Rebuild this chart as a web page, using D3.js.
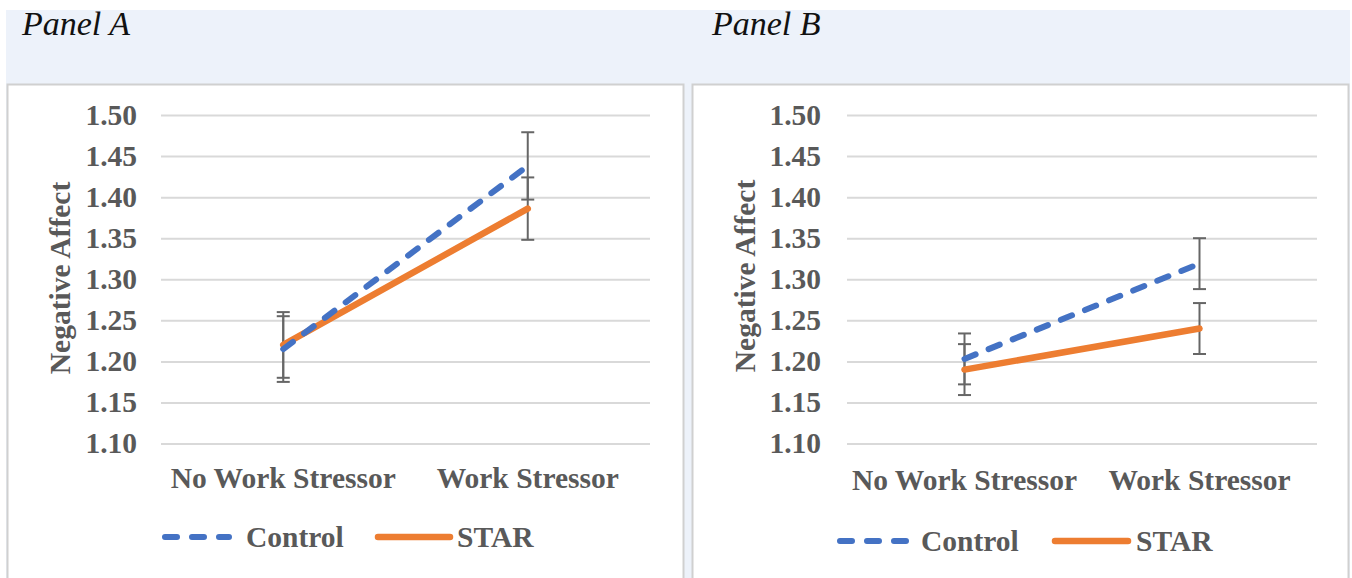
<!DOCTYPE html>
<html>
<head>
<meta charset="utf-8">
<script src="https://d3js.org/d3.v7.min.js"></script>
<style>
  html, body { margin: 0; padding: 0; background: #ffffff; }
  svg { display: block; }
</style>
</head>
<body>
<script>
// ---- data ----
const categories = ["No Work Stressor", "Work Stressor"];
const yTicks = [1.10, 1.15, 1.20, 1.25, 1.30, 1.35, 1.40, 1.45, 1.50];
const seriesNames = ["Control", "STAR"];

const panelA_control = [1.215, 1.438];
const panelA_controlErr = [0.040, 0.041];
const panelA_star = [1.220, 1.386];
const panelA_starErr = [0.040, 0.038];

const panelB_control = [1.203, 1.319];
const panelB_controlErr = [0.031, 0.031];
const panelB_star = [1.190, 1.240];
const panelB_starErr = [0.031, 0.031];

const panelTitles = ["Panel A", "Panel B"];
const yTitle = "Negative Affect";

// ---- styles ----
const W = 1352, H = 578;
const BLUE = "#4472C4", ORANGE = "#ED7D31", TEXT = "#595959", GRID = "#D9D9D9";
const FONT = "'Liberation Serif', 'Times New Roman', serif";
const FS = 29.5;

const svg = d3.select("body").append("svg").attr("width", W).attr("height", H);

svg.append("rect").attr("x", 0).attr("y", 0).attr("width", W).attr("height", H).attr("fill", "#ffffff");
svg.append("rect").attr("x", 6).attr("y", 10).attr("width", 1344).attr("height", H - 10).attr("fill", "#EDF2FA");

const panels = [
  {
    title: panelTitles[0], titleX: 22, titleY: 35,
    box: [7, 84, 676, 500],
    xRange: [161, 650], yRange: [443.5, 115], pad: 24,
    yTitleX: 70, yTitleY: 278, xLabelY: 488,
    legendY: 537, legendTextY: 547,
    leg: { dashX: [165, 229], ctrlText: 246, lineX: [378, 450], starText: 457 },
    control: panelA_control, controlErr: panelA_controlErr,
    star: panelA_star, starErr: panelA_starErr
  },
  {
    title: panelTitles[1], titleX: 712, titleY: 35,
    box: [692, 84, 656, 500],
    xRange: [847, 1317], yRange: [443.5, 115], pad: 26,
    yTitleX: 755, yTitleY: 276, xLabelY: 490,
    legendY: 541, legendTextY: 551,
    leg: { dashX: [840, 906], ctrlText: 921, lineX: [1055, 1128], starText: 1136 },
    control: panelB_control, controlErr: panelB_controlErr,
    star: panelB_star, starErr: panelB_starErr
  }
];

panels.forEach(p => {
  // title
  svg.append("text")
    .attr("x", p.titleX).attr("y", p.titleY)
    .attr("font-family", FONT).attr("font-style", "italic")
    .attr("font-size", 34).attr("fill", "#111111")
    .text(p.title);

  // panel box
  svg.append("rect")
    .attr("x", p.box[0] + 0.5).attr("y", p.box[1] + 0.5)
    .attr("width", p.box[2]).attr("height", p.box[3])
    .attr("fill", "#ffffff").attr("stroke", "#D0D0D0").attr("stroke-width", 2);

  const x = d3.scaleBand().domain(categories).range(p.xRange).padding(0);
  const y = d3.scaleLinear().domain([1.10, 1.50]).range(p.yRange);
  const cx = c => x(c) + x.bandwidth() / 2;
  const plotW = p.xRange[1] - p.xRange[0];

  // y axis with gridlines
  const yAxis = d3.axisLeft(y).tickValues(yTicks).tickFormat(d3.format(".2f"))
    .tickSizeInner(-plotW).tickSizeOuter(0).tickPadding(p.pad);
  const gy = svg.append("g").attr("transform", `translate(${p.xRange[0]},0)`).call(yAxis);
  gy.select(".domain").remove();
  gy.selectAll(".tick line").attr("stroke", GRID).attr("stroke-width", 2);
  gy.selectAll(".tick text")
    .attr("font-family", FONT).attr("font-weight", "bold")
    .attr("font-size", FS).attr("fill", TEXT);

  // x axis labels
  const xAxis = d3.axisBottom(x).tickSize(0).tickPadding(0);
  const gx = svg.append("g").attr("transform", `translate(0,${p.xLabelY})`).call(xAxis);
  gx.select(".domain").remove();
  gx.selectAll(".tick text")
    .attr("dy", 0).attr("y", 0)
    .attr("font-family", FONT).attr("font-weight", "bold")
    .attr("font-size", FS).attr("fill", TEXT);

  // y title
  svg.append("text")
    .attr("transform", `translate(${p.yTitleX},${p.yTitleY}) rotate(-90)`)
    .attr("text-anchor", "middle")
    .attr("font-family", FONT).attr("font-weight", "bold")
    .attr("font-size", FS).attr("fill", TEXT)
    .text(yTitle);

  const series = [
    { name: seriesNames[0], vals: p.control, errs: p.controlErr, color: BLUE, dash: "12,14" },
    { name: seriesNames[1], vals: p.star, errs: p.starErr, color: ORANGE, dash: null }
  ];

  // error bars (under lines)
  series.forEach(s => {
    const g = svg.append("g").attr("stroke", "#666666").attr("stroke-width", 2).attr("fill", "none");
    categories.forEach((c, i) => {
      const xc = cx(c);
      const hi = y(s.vals[i] + s.errs[i]), lo = y(s.vals[i] - s.errs[i]);
      g.append("line").attr("x1", xc).attr("x2", xc).attr("y1", hi).attr("y2", lo);
      g.append("line").attr("x1", xc - 6.5).attr("x2", xc + 6.5).attr("y1", hi).attr("y2", hi);
      g.append("line").attr("x1", xc - 6.5).attr("x2", xc + 6.5).attr("y1", lo).attr("y2", lo);
    });
  });

  // lines
  const line = d3.line().x((d, i) => cx(categories[i])).y(d => y(d));
  series.slice().reverse().forEach(s => {
    const path = svg.append("path").datum(s.vals)
      .attr("d", line).attr("fill", "none")
      .attr("stroke", s.color).attr("stroke-width", s.dash ? 6 : 6.5)
      .attr("stroke-linecap", "round");
    if (s.dash) path.attr("stroke-dasharray", s.dash);
  });

  // legend
  svg.append("line")
    .attr("x1", p.leg.dashX[0]).attr("x2", p.leg.dashX[1])
    .attr("y1", p.legendY).attr("y2", p.legendY)
    .attr("stroke", BLUE).attr("stroke-width", 6)
    .attr("stroke-dasharray", "12,15").attr("stroke-linecap", "round");
  svg.append("text").attr("x", p.leg.ctrlText).attr("y", p.legendTextY)
    .attr("font-family", FONT).attr("font-weight", "bold")
    .attr("font-size", FS).attr("fill", TEXT).text(seriesNames[0]);
  svg.append("line")
    .attr("x1", p.leg.lineX[0]).attr("x2", p.leg.lineX[1])
    .attr("y1", p.legendY).attr("y2", p.legendY)
    .attr("stroke", ORANGE).attr("stroke-width", 6.5).attr("stroke-linecap", "round");
  svg.append("text").attr("x", p.leg.starText).attr("y", p.legendTextY)
    .attr("font-family", FONT).attr("font-weight", "bold")
    .attr("font-size", FS).attr("fill", TEXT).text(seriesNames[1]);
});
</script>
</body>
</html>
